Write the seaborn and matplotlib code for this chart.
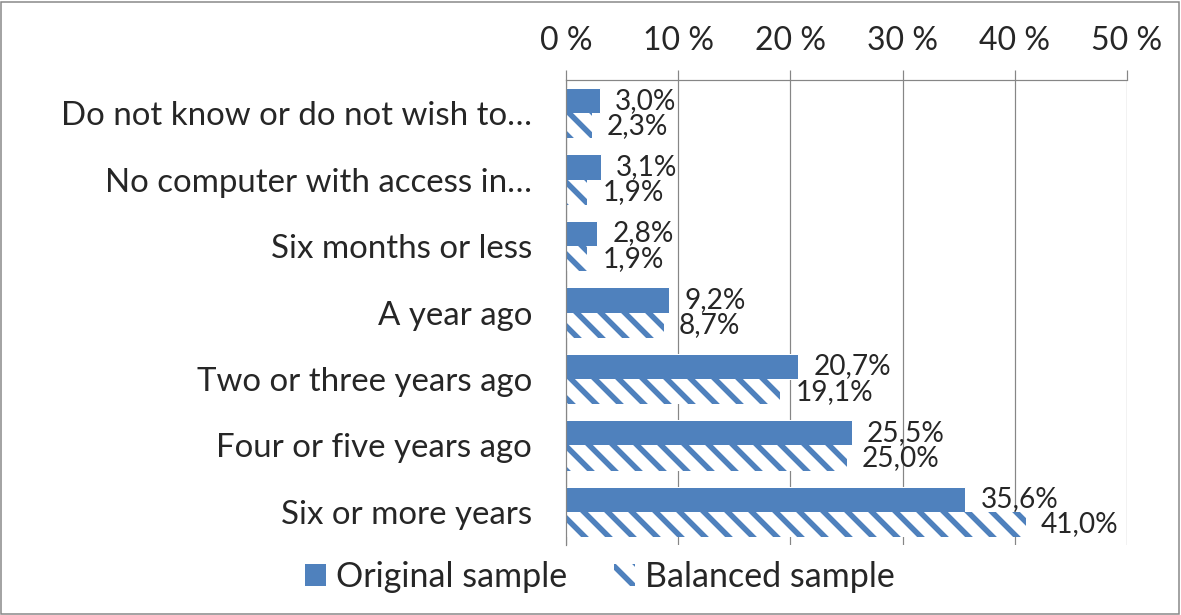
import matplotlib
matplotlib.use("Agg")
import matplotlib.pyplot as plt
from matplotlib.patches import Patch, Rectangle
import seaborn as sns
import pandas as pd

categories = [
    "Do not know or do not wish to…",
    "No computer with access in…",
    "Six months or less",
    "A year ago",
    "Two or three years ago",
    "Four or five years ago",
    "Six or more years",
]
original = [3.0, 3.1, 2.8, 9.2, 20.7, 25.5, 35.6]
balanced = [2.3, 1.9, 1.9, 8.7, 19.1, 25.0, 41.0]
series = ["Original sample", "Balanced sample"]
xticks = [0, 10, 20, 30, 40, 50]

blue = "#4F81BD"
gray = "#868686"

df = pd.DataFrame({
    "category": categories * 2,
    "value": original + balanced,
    "series": [series[0]] * len(categories) + [series[1]] * len(categories),
})

sns.set_style("white")
plt.rcParams["font.family"] = ["Lato", "DejaVu Sans"]
plt.rcParams["hatch.linewidth"] = 5.5

DPI = 72
fig = plt.figure(figsize=(1181 / DPI, 615 / DPI), dpi=DPI)
ax = fig.add_axes([566 / 1181, 1 - 545 / 615, (1127 - 566) / 1181, (545 - 80) / 615])

sns.barplot(
    data=df, x="value", y="category", hue="series",
    palette=[blue, blue], orient="h", width=0.76,
    saturation=1, legend=False, ax=ax,
)

# balanced sample -> white bars with diagonal stripes
for bar in ax.containers[1]:
    bar.set_facecolor("white")
    bar.set_edgecolor(blue)
    bar.set_linewidth(0)
    bar.set_hatch("\\")

# data labels
for cont, vals in zip(ax.containers, [original, balanced]):
    ax.bar_label(cont, labels=[f"{v:.1f}%".replace(".", ",") for v in vals],
                 padding=15, fontsize=28)

ax.set_xlim(0, 50)
ax.set_ylim(len(categories) - 0.5, -0.5)
ax.xaxis.tick_top()
ax.set_xticks(xticks)
ax.set_xticklabels([f"{t} %" for t in xticks], fontsize=32)
ax.tick_params(axis="x", direction="out", length=10, width=1.2, color=gray, pad=14)
ax.grid(axis="x", color=gray, linewidth=1.2)
ax.set_axisbelow(True)

# category labels at centres, tick marks at boundaries
ax.set_yticks(range(len(categories)))
ax.set_yticklabels(categories, fontsize=33)
ax.set_yticks([i - 0.5 for i in range(len(categories) + 1)], minor=True)
ax.tick_params(axis="y", which="major", length=0, pad=34)
ax.tick_params(axis="y", which="minor", direction="out", length=12, width=1.2, color=gray)

ax.set_xlabel("")
ax.set_ylabel("")
for side in ["right", "bottom"]:
    ax.spines[side].set_visible(False)
for side in ["left", "top"]:
    ax.spines[side].set_color(gray)
    ax.spines[side].set_linewidth(1.2)

handles = [
    Patch(facecolor=blue, edgecolor=blue, linewidth=0),
    Patch(facecolor="white", edgecolor=blue, linewidth=0, hatch="\\"),
]
fig.legend(handles, series, loc="center", bbox_to_anchor=(600 / 1181, 1 - 577 / 615),
           ncol=2, frameon=False, fontsize=34, handlelength=0.6, handleheight=0.6,
           handletextpad=0.3, columnspacing=1.4)

# chart border
fig.patches.append(Rectangle((0.001, 0.002), 0.997, 0.995, transform=fig.transFigure,
                             fill=False, edgecolor=gray, linewidth=1.5))

fig.savefig("out.png", dpi=DPI)
